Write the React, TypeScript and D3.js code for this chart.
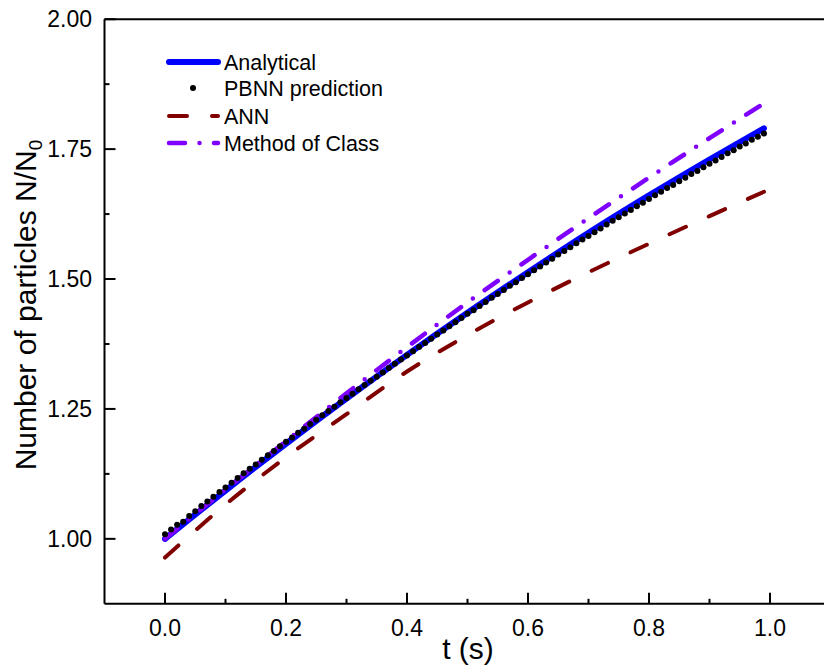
import React from "react";
import * as d3 from "d3";

// ---- data ----
const curveTimes = [0, 0.1, 0.2, 0.3, 0.4, 0.5, 0.6, 0.7, 0.8, 0.9, 0.99];
const analytical = [1.0, 1.093, 1.183, 1.27, 1.354, 1.435, 1.513, 1.589, 1.661, 1.73, 1.79];
const ann = [0.964, 1.066, 1.157, 1.24, 1.322, 1.392, 1.455, 1.513, 1.568, 1.621, 1.668];
const methodOfClass = [1.0, 1.095, 1.188, 1.28, 1.369, 1.455, 1.537, 1.617, 1.695, 1.771, 1.838];

const pbnnStep = 0.01;
const pbnn = [
  1.009, 1.018, 1.027, 1.033, 1.044, 1.053, 1.063, 1.072, 1.081, 1.09,
  1.099, 1.108, 1.117, 1.126, 1.135, 1.143, 1.152, 1.161, 1.169, 1.178,
  1.187, 1.195, 1.204, 1.212, 1.221, 1.229, 1.238, 1.246, 1.254, 1.263,
  1.271, 1.279, 1.288, 1.296, 1.304, 1.312, 1.32, 1.329, 1.337, 1.345,
  1.353, 1.361, 1.369, 1.377, 1.385, 1.393, 1.401, 1.409, 1.417, 1.425,
  1.433, 1.44, 1.448, 1.456, 1.464, 1.471, 1.479, 1.487, 1.494, 1.502,
  1.509, 1.517, 1.524, 1.532, 1.539, 1.547, 1.554, 1.561, 1.569, 1.576,
  1.583, 1.59, 1.597, 1.605, 1.612, 1.619, 1.626, 1.633, 1.64, 1.647,
  1.654, 1.661, 1.668, 1.675, 1.681, 1.688, 1.695, 1.702, 1.708, 1.715,
  1.722, 1.728, 1.735, 1.742, 1.748, 1.755, 1.761, 1.768, 1.774, 1.78,
];

const xMajorTicks = [0.0, 0.2, 0.4, 0.6, 0.8, 1.0];
const xMinorTicks = [0.1, 0.3, 0.5, 0.7, 0.9];
const yMajorTicks = [1.0, 1.25, 1.5, 1.75, 2.0];
const yMinorTicks = [1.125, 1.375, 1.625, 1.875];

const legendLabels = ["Analytical", "PBNN prediction", "ANN", "Method of Class"];

const FONT = "'Liberation Sans', Arial, Helvetica, sans-serif";
const BLUE = "#0000ff";
const DARKRED = "#800000";
const VIOLET = "#8000ff";

export default function App() {
  const x = d3.scaleLinear().domain([-0.1, 1.1]).range([104.5, 830.5]);
  const y = d3.scaleLinear().domain([0.875, 2.0]).range([603.8, 19.2]);

  const line = d3
    .line<[number, number]>()
    .x((d) => x(d[0]))
    .y((d) => y(d[1]))
    .curve(d3.curveMonotoneX);

  const anaPts = curveTimes.map((t, i) => [t, analytical[i]] as [number, number]);
  const annPts = curveTimes.map((t, i) => [t, ann[i]] as [number, number]);
  const mocPts = curveTimes.map((t, i) => [t, methodOfClass[i]] as [number, number]);

  const x0 = x(-0.1);
  const x1 = x(1.1);
  const yTop = y(2.0);
  const yBot = y(0.875);

  const legendY = [62, 88, 116, 143];

  return (
    <svg
      width={824}
      height={672}
      style={{ position: "absolute", left: 0, top: 0, background: "#fff" }}
      fontFamily={FONT}
    >
      <rect x={0} y={0} width={824} height={672} fill="#fff" />

      {/* axes frame */}
      <line x1={x0} x2={x1} y1={yTop} y2={yTop} stroke="#000" strokeWidth={2} />
      <line x1={x0} x2={x1} y1={yBot} y2={yBot} stroke="#000" strokeWidth={2} />
      <line x1={x0} x2={x0} y1={yTop} y2={yBot} stroke="#000" strokeWidth={2} />

      {/* x ticks */}
      {xMajorTicks.map((t) => (
        <g key={"xm" + t}>
          <line x1={x(t)} x2={x(t)} y1={yBot} y2={yBot - 11} stroke="#000" strokeWidth={2} />
          <text x={x(t)} y={636} textAnchor="middle" fontSize={23} fill="#000">
            {d3.format(".1f")(t)}
          </text>
        </g>
      ))}
      {xMinorTicks.map((t) => (
        <line key={"xn" + t} x1={x(t)} x2={x(t)} y1={yBot} y2={yBot - 5} stroke="#000" strokeWidth={2} />
      ))}

      {/* y ticks */}
      {yMajorTicks.map((v) => (
        <g key={"ym" + v}>
          <line x1={x0} x2={x0 + 11} y1={y(v)} y2={y(v)} stroke="#000" strokeWidth={2} />
          <text x={92} y={y(v) + 8} textAnchor="end" fontSize={23} fill="#000">
            {d3.format(".2f")(v)}
          </text>
        </g>
      ))}
      {yMinorTicks.map((v) => (
        <line key={"yn" + v} x1={x0} x2={x0 + 5} y1={y(v)} y2={y(v)} stroke="#000" strokeWidth={2} />
      ))}

      {/* axis titles */}
      <text x={468} y={659} textAnchor="middle" fontSize={30} fill="#000">
        t (s)
      </text>
      <text transform="translate(36,305) rotate(-90)" textAnchor="middle" fontSize={30} fill="#000">
        Number of particles N/N
        <tspan fontSize={19} dy={6}>0</tspan>
      </text>

      {/* series */}
      <path d={line(anaPts) || ""} fill="none" stroke={BLUE} strokeWidth={6} strokeLinecap="round" />
      <path
        d={line(mocPts) || ""}
        fill="none"
        stroke={VIOLET}
        strokeWidth={4.5}
        strokeLinecap="round"
        strokeDasharray="16 14.5 0 14.5"
      />
      <path
        d={line(annPts) || ""}
        fill="none"
        stroke={DARKRED}
        strokeWidth={4}
        strokeLinecap="round"
        strokeDasharray="18 25"
      />
      {pbnn.map((v, i) => (
        <circle key={"p" + i} cx={x(i * pbnnStep)} cy={y(v)} r={3} fill="#000" />
      ))}

      {/* legend */}
      <line x1={169} x2={218} y1={legendY[0]} y2={legendY[0]} stroke={BLUE} strokeWidth={6} strokeLinecap="round" />
      <circle cx={193} cy={legendY[1]} r={3} fill="#000" />
      <line
        x1={169}
        x2={218}
        y1={legendY[2]}
        y2={legendY[2]}
        stroke={DARKRED}
        strokeWidth={4}
        strokeLinecap="round"
        strokeDasharray="18 25"
      />
      <line
        x1={169}
        x2={218}
        y1={legendY[3]}
        y2={legendY[3]}
        stroke={VIOLET}
        strokeWidth={4.5}
        strokeLinecap="round"
        strokeDasharray="16 14.5 0 14.5"
      />
      {legendLabels.map((lab, i) => (
        <text key={lab} x={224} y={legendY[i] + 7.5} fontSize={21.5} fill="#000">
          {lab}
        </text>
      ))}
    </svg>
  );
}
